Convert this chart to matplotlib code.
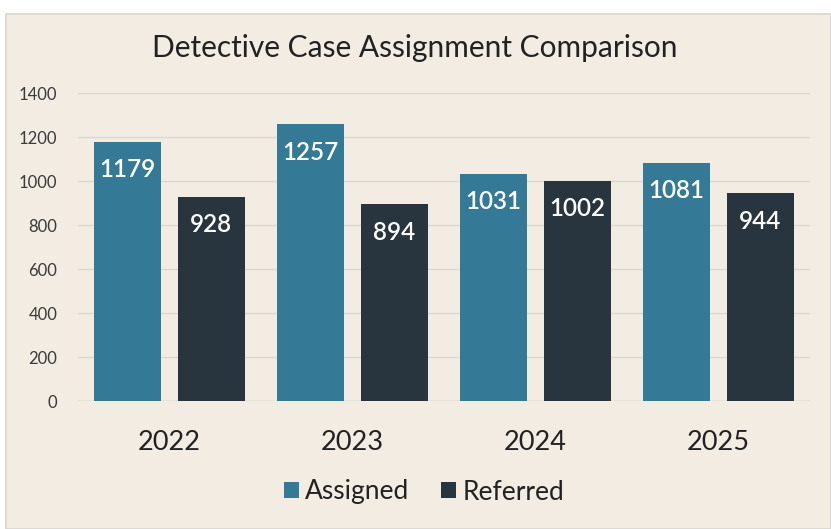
"""Detective case assignment comparison bar chart."""

import matplotlib.pyplot as plt
import numpy as np
from matplotlib.patches import Rectangle

years = ["2022", "2023", "2024", "2025"]
assigned = [1179, 1257, 1031, 1081]
referred = [928, 894, 1002, 944]

BG = "#F2ECE2"
ASSIGNED_COLOR = "#347A96"
REFERRED_COLOR = "#28353E"

plt.rcParams["font.family"] = ["Lato", "DejaVu Sans"]

fig = plt.figure(figsize=(8.31, 5.29), dpi=100, facecolor="white")
W, H = 831, 529

# Chart background panel with thin grey border
fig.patches.append(Rectangle((6 / W, 0), 1 - 6 / W, 1 - 14 / H, transform=fig.transFigure,
                             facecolor=BG, edgecolor="#D9D6D0", linewidth=1.2, zorder=-5))

ax = fig.add_axes([78 / W, 1 - 401 / H, (810 - 78) / W, (401 - 93) / H])
ax.set_facecolor("none")

x = np.arange(len(years))
width = 0.366
offset = 0.228

bars_a = ax.bar(x - offset, assigned, width, color=ASSIGNED_COLOR, label="Assigned", zorder=3)
bars_r = ax.bar(x + offset, referred, width, color=REFERRED_COLOR, label="Referred", zorder=3)

# Value labels inside bars near top
for bars in (bars_a, bars_r):
    for b in bars:
        ax.annotate(f"{int(b.get_height())}", (b.get_x() + b.get_width() / 2, b.get_height()),
                    xytext=(0, -20), textcoords="offset points", ha="center", va="center",
                    color="white", fontsize=17.5, fontweight="semibold", zorder=4)

ax.set_xlim(-0.5, len(years) - 0.5)
ax.set_ylim(0, 1400)
ax.set_yticks(range(0, 1401, 200))
ax.set_xticks(x)
ax.set_xticklabels(years, fontsize=19.5, color="#222222")
ax.tick_params(axis="x", length=0, pad=21)
ax.tick_params(axis="y", length=0, pad=15, labelsize=12, labelcolor="#3A3A3A")

ax.grid(axis="y", color="#DDD8CF", linewidth=1, zorder=0)
for s in ax.spines.values():
    s.set_visible(False)
ax.axhline(0, color="#D4CFC6", linewidth=1, zorder=2)

fig.text(415 / W, 1 - 48 / H, "Detective Case Assignment Comparison", ha="center", va="center",
         fontsize=21.5, color="#222222")

fig.legend(handles=[bars_a, bars_r], labels=["Assigned", "Referred"], loc="center",
           bbox_to_anchor=(424 / W, 1 - 492 / H), ncol=2, frameon=False, fontsize=19,
           handlelength=0.55, handleheight=0.55, handletextpad=0.25, columnspacing=1.2,
           labelcolor="#222222")

fig.savefig("out.png", dpi=100, facecolor="white")
